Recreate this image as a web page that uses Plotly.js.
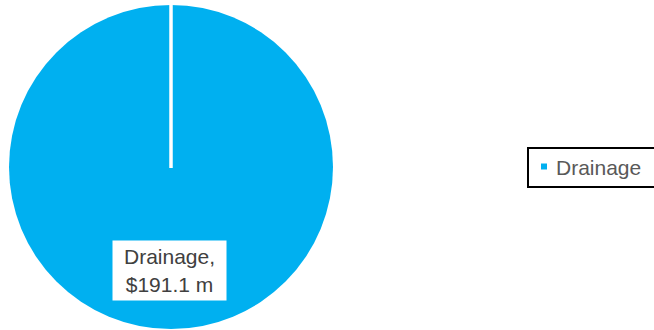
<!DOCTYPE html>
<html>
<head>
<meta charset="utf-8">
<script src="https://cdn.plot.ly/plotly-3.0.1.min.js"></script>
<style>html,body{margin:0;padding:0;background:#fff;}#chart{width:654px;height:330px;}</style>
</head>
<body>
<div id="chart"></div>
<script>
const categories = ["Drainage"];
const values = [191.1];
const valueUnit = " m";
const colors = ["#00B0F0"];

const W = 654, H = 330;
const px = v => v / W;
const py = v => (H - v) / H;

const pie = {
  type: "pie",
  labels: categories,
  values: values,
  marker: {colors: colors, line: {width: 0}},
  textinfo: "none",
  hoverinfo: "label+value",
  sort: false,
  direction: "clockwise",
  rotation: 0,
  showlegend: false,
  domain: {x: [px(9), px(333)], y: [py(329), py(5)]}
};

const layout = {
  width: W, height: H,
  margin: {l: 0, r: 0, t: 0, b: 0},
  paper_bgcolor: "#fff",
  font: {family: "Liberation Sans, Arial, sans-serif", size: 21, color: "#595959"},
  showlegend: false,
  shapes: [
    {type: "line", xref: "paper", yref: "paper",
     x0: px(171), x1: px(171), y0: py(168), y1: py(4),
     line: {color: "#fff", width: 3.5}},
    // legend box
    {type: "rect", xref: "paper", yref: "paper",
     x0: px(528), x1: px(680), y0: py(187), y1: py(148),
     line: {color: "#000", width: 2}, fillcolor: "#fff"},
    // legend marker
    {type: "rect", xref: "paper", yref: "paper",
     x0: px(541), x1: px(547), y0: py(169.5), y1: py(163.5),
     line: {width: 0}, fillcolor: colors[0]}
  ],
  annotations: [
    {xref: "paper", yref: "paper",
     x: px(170), y: py(270.5), xanchor: "center", yanchor: "middle",
     text: categories[0] + ",<br>$" + values[0].toFixed(1) + valueUnit,
     showarrow: false, bgcolor: "#fff", borderpad: 1,
     width: 111, height: 57, align: "center",
     font: {size: 21, color: "#404040"}},
    {xref: "paper", yref: "paper",
     x: px(554), y: py(167), xanchor: "left", yanchor: "middle",
     text: categories[0], showarrow: false, align: "left",
     font: {size: 21, color: "#595959"}}
  ]
};

Plotly.newPlot("chart", [pie], layout, {displayModeBar: false, staticPlot: true});
</script>
</body>
</html>
